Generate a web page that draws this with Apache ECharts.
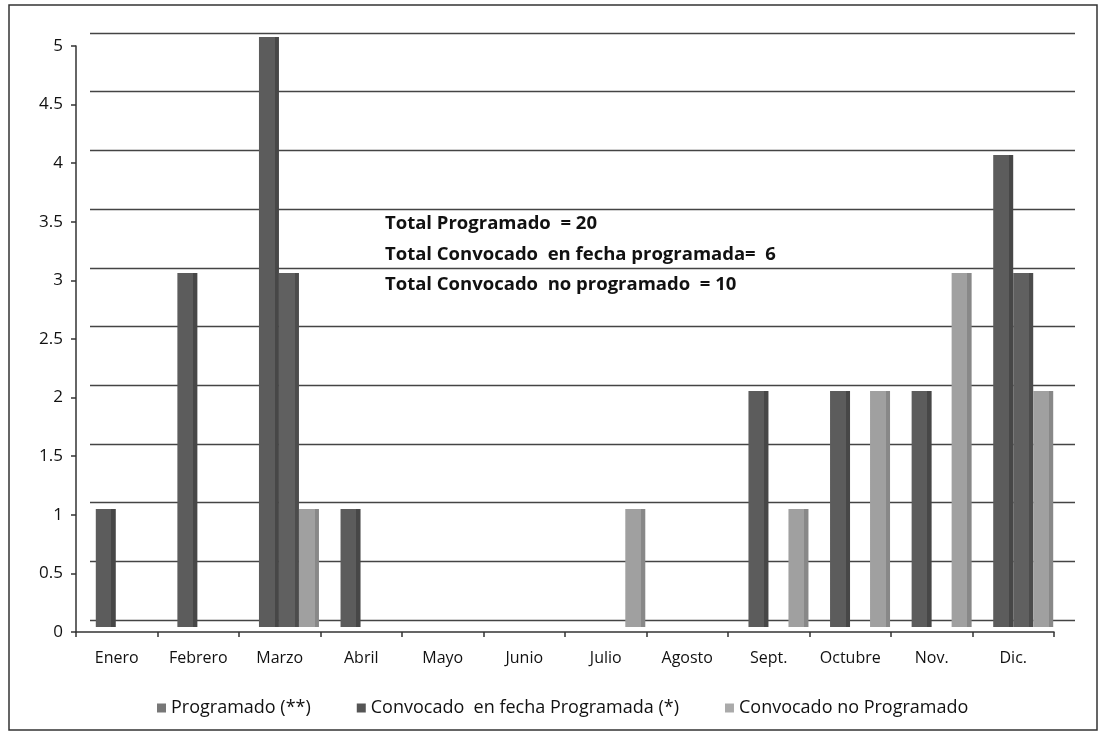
<!DOCTYPE html>
<html>
<head>
<meta charset="utf-8">
<script src="https://cdn.jsdelivr.net/npm/echarts@6/dist/echarts.min.js"></script>
<style>
html,body{margin:0;padding:0;background:#fff;}
#chart{width:1108px;height:735px;}
</style>
</head>
<body>
<div id="chart"></div>
<script>
var categories = ['Enero','Febrero','Marzo','Abril','Mayo','Junio','Julio','Agosto','Sept.','Octubre','Nov.','Dic.'];
var seriesNames = ['Programado (**)','Convocado  en fecha Programada (*)','Convocado no Programado'];
var programado = [1,3,5,1,0,0,0,0,2,2,2,4];
var convocadoFecha = [0,0,3,0,0,0,0,0,0,0,0,3];
var convocadoNoProg = [0,0,1,0,0,0,1,0,1,2,3,2];
var totalsText = ['Total Programado  = 20','Total Convocado  en fecha programada=  6','Total Convocado  no programado  = 10'];

var FONT = 'Open Sans';
function face(main, side){
  return {type:'linear',x:0,y:0,x2:1,y2:0,colorStops:[
    {offset:0,color:main},{offset:0.78,color:main},{offset:0.78,color:side},{offset:1,color:side}]};
}
var yBase = {type:'value', min:0, max:5, interval:0.5};
var chart = echarts.init(document.getElementById('chart'));
chart.setOption({
  animation:false,
  backgroundColor:'#fff',
  textStyle:{fontFamily:FONT},
  grid:[
    {left:76,right:54,top:46,bottom:103},   /* front plane: visible axes */
    {left:90,right:33,top:33,bottom:115},   /* back wall: gridlines */
    {left:85,right:44,top:37,bottom:108}    /* bars */
  ],
  legend:{
    left:152, top:694, itemWidth:9, itemHeight:9, itemGap:46,
    icon:'rect',
    textStyle:{fontFamily:FONT,fontSize:18,color:'#111'},
    data:[
      {name:seriesNames[0],itemStyle:{color:'#777'}},
      {name:seriesNames[1],itemStyle:{color:'#555'}},
      {name:seriesNames[2],itemStyle:{color:'#aaa'}}
    ]
  },
  xAxis:[
    {gridIndex:0,type:'category', data:categories,
     axisLine:{onZero:false,lineStyle:{color:'#333',width:1.5}},
     axisTick:{show:true,length:5,lineStyle:{color:'#333',width:1.5}},
     axisLabel:{margin:18,fontSize:16,color:'#111',fontFamily:FONT,interval:0}},
    {gridIndex:1,type:'category', data:categories, show:false},
    {gridIndex:2,type:'category', data:categories, show:false}
  ],
  yAxis:[
    Object.assign({gridIndex:0,
      axisLine:{show:true,lineStyle:{color:'#333',width:1.5}},
      axisTick:{show:true,length:5,lineStyle:{color:'#333',width:1.5}},
      axisLabel:{margin:13,fontSize:17,color:'#111',fontFamily:FONT},
      splitLine:{show:false}}, yBase),
    Object.assign({gridIndex:1,
      axisLine:{show:false},axisTick:{show:false},axisLabel:{show:false},
      splitLine:{show:true,lineStyle:{color:'#444',width:1.4}}}, yBase),
    Object.assign({gridIndex:2,
      axisLine:{show:false},axisTick:{show:false},axisLabel:{show:false},
      splitLine:{show:false}}, yBase)
  ],
  series:[
    {name:seriesNames[0],type:'bar',xAxisIndex:2,yAxisIndex:2,data:programado,barWidth:20,barGap:'0%',
     itemStyle:{color:face('#5c5c5c','#474747')}},
    {name:seriesNames[1],type:'bar',xAxisIndex:2,yAxisIndex:2,data:convocadoFecha,barWidth:20,barGap:'0%',
     itemStyle:{color:face('#606060','#4c4c4c')}},
    {name:seriesNames[2],type:'bar',xAxisIndex:2,yAxisIndex:2,data:convocadoNoProg,barWidth:20,barGap:'0%',
     itemStyle:{color:face('#a0a0a0','#888888')}}
  ],
  graphic:[
    {type:'rect',shape:{x:9,y:5,width:1088,height:725},style:{fill:null,stroke:'#333',lineWidth:1.5},silent:true},
    {type:'text',left:385,top:214,style:{text:totalsText[0],font:'bold 18.5px '+FONT,fill:'#111'}},
    {type:'text',left:385,top:245,style:{text:totalsText[1],font:'bold 18.5px '+FONT,fill:'#111'}},
    {type:'text',left:385,top:275,style:{text:totalsText[2],font:'bold 18.5px '+FONT,fill:'#111'}}
  ]
});
</script>
</body>
</html>
